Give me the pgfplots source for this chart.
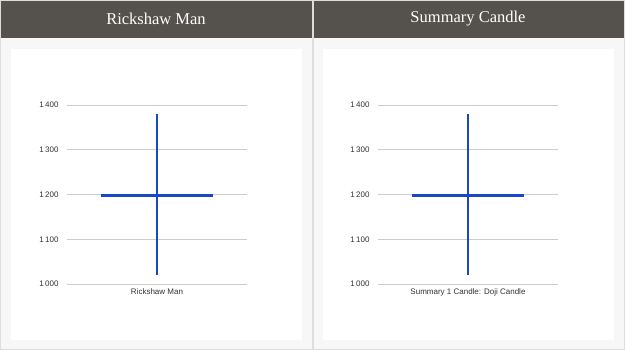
\documentclass[border=0pt]{standalone}
\usepackage{pgfplots}
\pgfplotsset{compat=1.18}
\usepackage{fontspec}
\setmainfont{Liberation Sans}
\newfontfamily\titlefont{Liberation Serif}
\definecolor{hdr}{HTML}{55514D}
\definecolor{panelbg}{HTML}{F7F7F7}
\definecolor{panelbd}{HTML}{DDDDDD}
\definecolor{candle}{HTML}{1848C8}
\definecolor{gridc}{HTML}{CCCCCC}
\definecolor{gridl}{HTML}{E3E3E3}
\definecolor{tickc}{HTML}{333333}
\pgfplotsset{
  candleaxis/.style={
    scale only axis, width=180pt, height=179pt,
    anchor=south west,
    xmin=-0.5, xmax=0.5, ymin=1000, ymax=1400,
    enlargelimits=false, clip=false,
    axis line style={draw=none},
    major tick length=0pt,
    tick style={draw=none},
    ytick={1100,1200,1300},
    extra y ticks={1000,1400},
    extra y tick style={grid style={color=gridl, line width=1.6pt}},
    ymajorgrids,
    major grid style={color=gridc, line width=0.8pt},
    xtick={0},
    ticklabel style={font=\fontsize{8}{9.5}\selectfont, text=tickc},
    yticklabel style={xshift=-5pt},
    xticklabel style={yshift=-1pt},
    /pgf/number format/assume math mode=true,
    /pgf/number format/1000 sep={\,},
  }
}
\begin{document}
\begin{tikzpicture}[x=1pt,y=1pt]
% canvas
\path (0,0) rectangle (625,351);
% left panel
\fill[panelbg,draw=panelbd] (0.5,1.5) rectangle (312,350.5);
\fill[white] (11,11) rectangle (302,302);
\fill[hdr] (1,313) rectangle (311.5,350);
\node[text=white,font=\titlefont\fontsize{16.5}{18}\selectfont] at (156,332) {Rickshaw Man};
% right panel
\fill[panelbg,draw=panelbd] (313,1.5) rectangle (624.5,350.5);
\fill[white] (323,11) rectangle (614,302);
\fill[hdr] (313.5,313) rectangle (624,350);
\node[text=white,font=\titlefont\fontsize{16.5}{18}\selectfont] at (468,332) {Summary Candle};

\begin{axis}[candleaxis, at={(67pt,67pt)}, xticklabels={Rickshaw Man}]
\addplot[candle, line width=1.4pt] coordinates {(0,1020) (0,1380)};
\addplot[candle, line width=2.6pt] coordinates {(-0.31,1197.5) (0.31,1197.5)};
\end{axis}

\begin{axis}[candleaxis, at={(378pt,67pt)}, xticklabels={Summary 1 Candle: Doji Candle}]
\addplot[candle, line width=1.4pt] coordinates {(0,1020) (0,1380)};
\addplot[candle, line width=2.6pt] coordinates {(-0.31,1197.5) (0.31,1197.5)};
\end{axis}
\end{tikzpicture}
\end{document}
